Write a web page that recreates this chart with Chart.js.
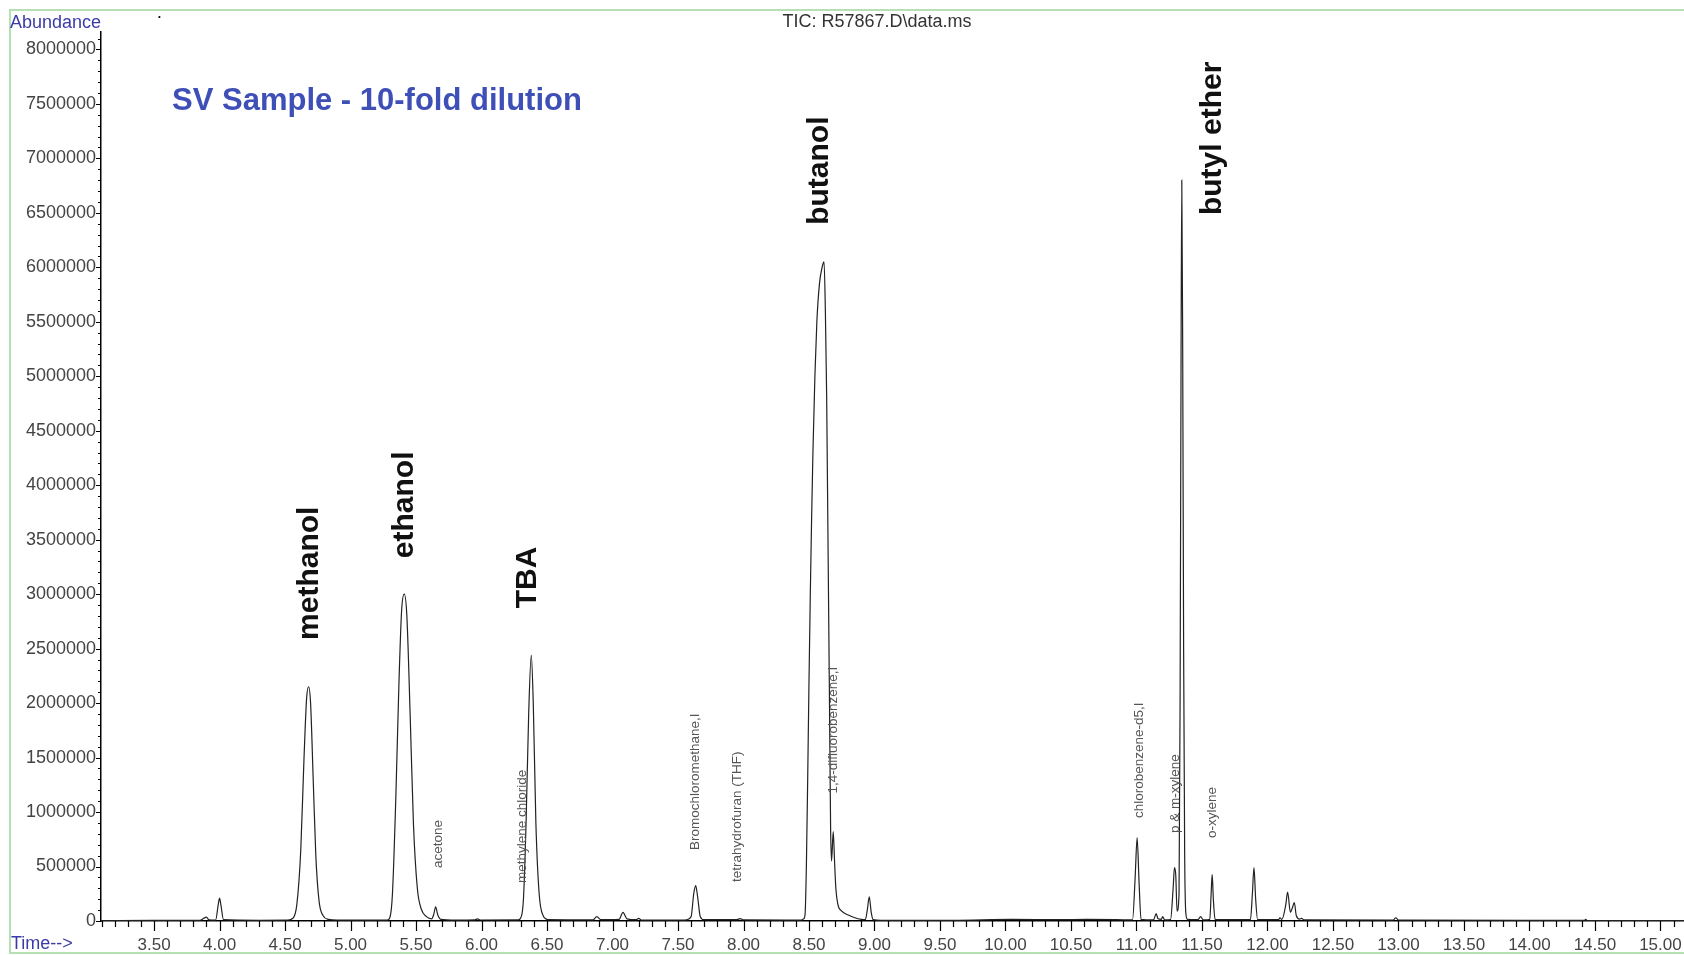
<!DOCTYPE html>
<html>
<head>
<meta charset="utf-8">
<script src="https://cdn.jsdelivr.net/npm/chart.js@4.4.1/dist/chart.umd.min.js"></script>
<style>
  html, body { margin: 0; padding: 0; background: #fff; }
  #wrap { position: relative; width: 1684px; height: 955px; overflow: hidden; font-family: "Liberation Sans", Arial, sans-serif; }
  #frame { position: absolute; left: 9px; top: 9px; width: 1700px; height: 945px; border: 2px solid #b4e0b4; border-right: none; box-sizing: border-box; pointer-events: none; }
  .txt { position: absolute; white-space: nowrap; line-height: 1; }
</style>
</head>
<body>
<div id="wrap">
  <canvas id="tic" width="1684" height="955"></canvas>
  <div id="frame"></div>
  <div class="txt" style="left:10px; top:13px; font-size:18px; color:#3b3ba8;">Abundance</div>
  <div class="txt" style="left:158px; top:13px; font-size:8px; color:#000;">&#8226;</div>
  <div class="txt" style="left:877px; top:12px; font-size:18px; color:#333; transform:translateX(-50%);">TIC: R57867.D\data.ms</div>
  <div class="txt" style="left:172px; top:84px; font-size:31px; font-weight:bold; color:#3e4fb7;">SV Sample - 10-fold dilution</div>
  <div class="txt" style="left:11px; top:934px; font-size:18px; color:#3b3ba8;">Time--&gt;</div>
</div>
<script>
// retention time (min) and abundance
const rt = [
  3.08, 3.50, 3.85, 3.88, 3.90, 3.92, 3.97, 3.99, 4.00, 4.01, 4.03, 4.30,
  4.52, 4.56, 4.59, 4.62, 4.645, 4.665, 4.68, 4.695, 4.715, 4.735, 4.76, 4.79, 4.83, 4.90,
  5.28, 5.30, 5.32, 5.345, 5.37, 5.39, 5.41, 5.43, 5.455, 5.48, 5.51, 5.54, 5.58,
  5.62, 5.635, 5.65, 5.665, 5.69, 5.80, 5.95, 5.97, 5.99,
  6.28, 6.30, 6.32, 6.34, 6.36, 6.38, 6.395, 6.415, 6.44, 6.47, 6.51,
  6.85, 6.88, 6.91, 7.05, 7.08, 7.11, 7.18, 7.20, 7.22,
  7.55, 7.60, 7.62, 7.635, 7.65, 7.67, 7.70, 7.95, 7.975, 8.00,
  8.44, 8.46, 8.47, 8.48, 8.49, 8.50, 8.51, 8.52, 8.53, 8.545, 8.56, 8.58, 8.60, 8.615,
  8.625, 8.635, 8.645, 8.655, 8.665, 8.672, 8.685, 8.695, 8.705, 8.72, 8.75, 8.80, 8.85, 8.90,
  8.93, 8.945, 8.96, 8.975, 8.99, 9.05, 9.60, 10.05, 10.40, 10.62, 10.85,
  10.97, 10.99, 11.005, 11.02, 11.035, 11.13, 11.15, 11.165, 11.19, 11.20, 11.215,
  11.26, 11.28, 11.29, 11.30, 11.31, 11.325, 11.333, 11.34, 11.346, 11.353, 11.36, 11.368, 11.378, 11.39,
  11.47, 11.49, 11.51, 11.56, 11.57, 11.578, 11.587, 11.60,
  11.87, 11.885, 11.897, 11.91, 11.925,
  12.085, 12.095, 12.11, 12.14, 12.154, 12.175, 12.19, 12.205, 12.22, 12.245, 12.26, 12.28,
  12.96, 12.98, 13.00, 14.00, 14.42, 14.43, 14.44, 15.21
];
const abundance = [
  4000, 5000, 6000, 25000, 35000, 10000, 8000, 150000, 210000, 150000, 12000, 6000,
  8000, 25000, 150000, 650000, 1500000, 2050000, 2150000, 2000000, 1300000, 600000, 180000, 50000, 15000, 8000,
  8000, 30000, 250000, 1100000, 2200000, 2850000, 3000000, 2800000, 1900000, 900000, 300000, 110000, 40000,
  20000, 60000, 130000, 60000, 15000, 8000, 10000, 20000, 9000,
  10000, 30000, 200000, 900000, 1900000, 2440000, 2000000, 900000, 250000, 50000, 12000,
  10000, 40000, 12000, 15000, 80000, 20000, 12000, 25000, 8000,
  8000, 40000, 250000, 325000, 220000, 40000, 12000, 12000, 22000, 10000,
  8000, 20000, 60000, 500000, 1300000, 2200000, 3000000, 3700000, 4300000, 5000000, 5500000, 5850000, 6000000, 6050000,
  5600000, 4800000, 3500000, 2200000, 860000, 550000, 820000, 550000, 300000, 155000, 90000, 55000, 30000, 15000,
  12000, 100000, 222000, 80000, 12000, 6000, 6000, 15000, 12000, 14000, 12000,
  10000, 400000, 765000, 350000, 15000, 10000, 67000, 20000, 15000, 40000, 10000,
  12000, 300000, 490000, 420000, 90000, 250000, 2000000, 5000000, 6800000, 5200000, 2500000, 600000, 60000, 15000,
  12000, 40000, 10000, 15000, 250000, 428000, 200000, 15000,
  12000, 250000, 490000, 200000, 12000,
  12000, 30000, 15000, 150000, 266000, 80000, 120000, 168000, 50000, 18000, 24000, 10000,
  8000, 30000, 8000, 6000, 5000, 15000, 4000, 3000
];

// peak names: [text, rt, abundance at start of text]
const bigNames = ["methanol", "ethanol", "TBA", "butanol", "butyl ether"];
const bigRt = [4.69, 5.41, 6.355, 8.58, 11.58];
const bigAt = [2580000, 3330000, 2870000, 6390000, 6480000];

const smallNames = ["acetone", "methylene chloride", "Bromochloromethane,I", "tetrahydrofuran (THF)",
  "1,4-difluorobenzene,I", "chlorobenzene-d5,I", "p & m-xylene", "o-xylene"];
const smallRt = [5.673, 6.31, 7.634, 7.956, 8.685, 11.02, 11.30, 11.58];
const smallAt = [486000, 349000, 651000, 358000, 1170000, 945000, 807000, 761000];

const yStep = 100000;
const yTop = 8160000;

const FONT = "'Liberation Sans', Arial, sans-serif";

const peakLabels = {
  id: "peakLabels",
  afterDatasetsDraw(chart) {
    const { ctx, scales: { x, y } } = chart;
    ctx.save();
    const put = (names, ts, as, font, color) => {
      ctx.font = font;
      ctx.fillStyle = color;
      ctx.textAlign = "left";
      ctx.textBaseline = "middle";
      names.forEach((n, i) => {
        ctx.save();
        ctx.translate(x.getPixelForValue(ts[i]), y.getPixelForValue(as[i]));
        ctx.rotate(-Math.PI / 2);
        ctx.fillText(n, 0, 0);
        ctx.restore();
      });
    };
    put(bigNames, bigRt, bigAt, "bold 30px " + FONT, "#111");
    put(smallNames, smallRt, smallAt, "13.5px " + FONT, "#555");
    ctx.restore();
  }
};

// major / minor tick marks
const tickMarks = {
  id: "tickMarks",
  afterDraw(chart) {
    const { ctx, scales: { x, y } } = chart;
    ctx.save();
    ctx.strokeStyle = "#000";
    ctx.lineWidth = 1.2;
    ctx.beginPath();
    x.ticks.forEach(t => {
      const px = Math.round(x.getPixelForValue(t.value)) + 0.5;
      const major = Math.round(t.value * 10) % 5 === 0;
      ctx.moveTo(px, x.top);
      ctx.lineTo(px, x.top + (major ? 10 : 6));
    });
    y.ticks.forEach(t => {
      const py = Math.round(y.getPixelForValue(t.value)) + 0.5;
      const major = Math.round(t.value / yStep) % 5 === 0;
      ctx.moveTo(y.right, py);
      ctx.lineTo(y.right - (major ? 5 : 3), py);
    });
    ctx.stroke();
    ctx.restore();
  }
};

new Chart(document.getElementById("tic"), {
  type: "line",
  data: {
    datasets: [{
      data: rt.map((t, i) => ({ x: t, y: abundance[i] })),
      borderColor: "#222",
      borderWidth: 1.2,
      pointRadius: 0,
      cubicInterpolationMode: "monotone",
      fill: false
    }]
  },
  options: {
    responsive: false,
    animation: false,
    devicePixelRatio: 1,
    layout: { padding: { top: 32, right: 0, left: 0, bottom: 0 } },
    plugins: { legend: { display: false }, tooltip: { enabled: false } },
    scales: {
      x: {
        type: "linear",
        min: 3.095,
        max: 15.18,
        afterFit: s => { s.height = 34; },
        border: { display: true, color: "#000", width: 1.5 },
        grid: { drawOnChartArea: false, drawTicks: true, tickLength: 10, tickColor: "transparent" },
        ticks: {
          stepSize: 0.1,
          includeBounds: false,
          autoSkip: false,
          maxRotation: 0,
          padding: 4,
          color: "#444",
          font: { family: FONT, size: 17 },
          callback: v => (Math.round(v * 10) % 5 === 0 ? v.toFixed(2) : "")
        }
      },
      y: {
        min: 0,
        max: yTop,
        afterFit: s => { s.width = 101; },
        afterBuildTicks: s => {
          const t = [];
          for (let v = 0; v <= yTop; v += yStep) t.push({ value: v });
          s.ticks = t;
        },
        border: { display: true, color: "#000", width: 1.5 },
        grid: { drawOnChartArea: false, drawTicks: true, tickLength: 4, tickColor: "transparent" },
        ticks: {
          autoSkip: false,
          padding: 1,
          color: "#444",
          font: { family: FONT, size: 18 },
          callback: v => (Math.round(v / yStep) % 5 === 0 ? String(Math.round(v)) : "")
        }
      }
    }
  },
  plugins: [peakLabels, tickMarks]
});
</script>
</body>
</html>
